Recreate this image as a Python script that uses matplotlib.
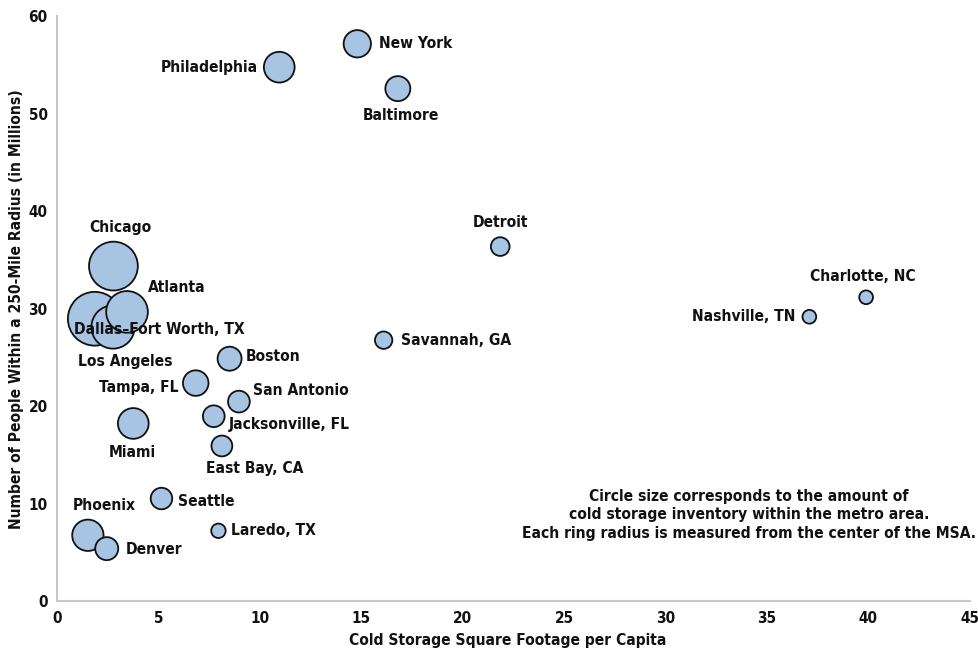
import os
import matplotlib
matplotlib.use("Agg")
import matplotlib.pyplot as plt
from matplotlib import font_manager as fm
import numpy as np

# ---- data -------------------------------------------------------------
cities = [
    "New York", "Philadelphia", "Baltimore", "Detroit", "Charlotte, NC",
    "Nashville, TN", "Savannah, GA", "Chicago", "Atlanta",
    "Dallas\u2013Fort Worth, TX", "Los Angeles", "Boston", "Tampa, FL",
    "San Antonio", "Jacksonville, FL", "Miami", "East Bay, CA", "Seattle",
    "Phoenix", "Laredo, TX", "Denver",
]
sqft_per_capita = [
    14.8, 10.95, 16.8, 21.85, 39.9,
    37.1, 16.1, 2.77, 3.44,
    2.75, 1.85, 8.5, 6.83,
    8.96, 7.72, 3.75, 8.12, 5.14,
    1.51, 7.95, 2.44,
]
pop_250mi_millions = [
    57.2, 54.8, 52.6, 36.4, 31.2,
    29.2, 26.8, 34.4, 29.7,
    28.15, 29.0, 24.9, 22.4,
    20.5, 19.0, 18.26, 15.95, 10.56,
    6.79, 7.25, 5.42,
]
cold_storage_inventory = [
    79, 100, 66, 37, 20,
    20, 32, 252, 184,
    198, 306, 61, 69,
    50, 50, 100, 46, 49,
    104, 22, 56,
]

x_ticks = [0, 5, 10, 15, 20, 25, 30, 35, 40, 45]
y_ticks = [0, 10, 20, 30, 40, 50, 60]
x_title = "Cold Storage Square Footage per Capita"
y_title = "Number of People Within a 250-Mile Radius (in Millions)"
note = ("Circle size corresponds to the amount of\n"
        "cold storage inventory within the metro area.\n"
        "Each ring radius is measured from the center of the MSA.")

# ---- label placement (offset in pixels from bubble centre, alignment) --
label_layout = {
    "New York": (21.5, 0, "left"),
    "Philadelphia": (-21, 0, "right"),
    "Baltimore": (3, 27, "center"),
    "Detroit": (0, -24, "center"),
    "Charlotte, NC": (-3, -21, "center"),
    "Nashville, TN": (-14, 0, "right"),
    "Savannah, GA": (17, 0, "left"),
    "Chicago": (6.6, -39, "center"),
    "Atlanta": (20.7, -24, "left"),
    "Dallas\u2013Fort Worth, TX": (46.5, 2, "center"),
    "Los Angeles": (30, 42.7, "center"),
    "Boston": (16.3, -2.3, "left"),
    "Tampa, FL": (-17.4, 4.7, "right"),
    "San Antonio": (14, -11.5, "left"),
    "Jacksonville, FL": (15.3, 8.5, "left"),
    "Miami": (-0.6, 29.2, "center"),
    "East Bay, CA": (-15.8, 22.3, "left"),
    "Seattle": (16.8, 2.5, "left"),
    "Phoenix": (16.7, -29.6, "center"),
    "Laredo, TX": (12.2, 0.2, "left"),
    "Denver": (19.3, 0.6, "left"),
}


def condensed_bold():
    """Pick a bold condensed face if one is installed."""
    prefs = [
        "NotoSans-ExtraCondensedBold", "LiberationSansNarrow-Bold",
        "NotoSans-CondensedBold", "DejaVuSansCondensed-Bold",
        "OpenSans-CondensedBold", "OpenSans_Condensed-Bold",
        "RobotoCondensed-Bold", "NotoSans-SemiCondensedBold",
    ]
    files = {}
    for f in fm.fontManager.ttflist:
        files[os.path.splitext(os.path.basename(f.fname))[0]] = f.fname
    for p in prefs:
        if p in files:
            return fm.FontProperties(fname=files[p])
    for stem, path in files.items():
        s = stem.lower()
        if ("condensed" in s or "narrow" in s) and s.endswith("bold") \
                and "semibold" not in s and "extrabold" not in s:
            return fm.FontProperties(fname=path)
    return fm.FontProperties(family="DejaVu Sans", weight="bold")


base_fp = condensed_bold()


def fp(size):
    p = base_fp.copy()
    p.set_size(size)
    return p


PX = 72.0 / 100.0  # points per pixel at 100 dpi
LABEL_PT = 11.2

fig = plt.figure(figsize=(9.79, 6.54), dpi=100)
ax = fig.add_axes([0.0585, 0.0803, 0.9318, 0.8945])

order = np.argsort(cold_storage_inventory)[::-1]
xs = np.array(sqft_per_capita)[order]
ys = np.array(pop_250mi_millions)[order]
sizes = np.array(cold_storage_inventory, dtype=float)[order] * 4.9
ax.scatter(xs, ys, s=sizes, facecolor="#a7c4e3", edgecolor="#111111",
           linewidth=1.3, zorder=3)

for name, x, y in zip(cities, sqft_per_capita, pop_250mi_millions):
    dx, dy, ha = label_layout[name]
    ax.annotate(name, (x, y), xytext=(dx * PX, -dy * PX),
                textcoords="offset points", ha=ha, va="center",
                fontproperties=fp(LABEL_PT), color="#111111", zorder=5)

ax.set_xlim(0, 45)
ax.set_ylim(0, 60)
ax.set_xticks(x_ticks)
ax.set_yticks(y_ticks)
ax.tick_params(length=0, pad=7)
for lab in ax.get_xticklabels() + ax.get_yticklabels():
    lab.set_fontproperties(fp(11))
    lab.set_color("#111111")

for side in ("top", "right"):
    ax.spines[side].set_visible(False)
for side in ("left", "bottom"):
    ax.spines[side].set_color("#c8c8c8")
    ax.spines[side].set_linewidth(1.5)

fig.text(508 / 979, 1 - 641 / 654, x_title, ha="center", va="center",
         fontproperties=fp(LABEL_PT), color="#111111")
fig.text(17 / 979, 1 - 309 / 654, y_title, ha="center", va="center",
         rotation=90, fontproperties=fp(LABEL_PT), color="#111111")

fig.text(749 / 979, 1 - 515 / 654, note, ha="center", va="center",
         multialignment="center", linespacing=1.3,
         fontproperties=fp(LABEL_PT), color="#111111")

fig.savefig("out.png", dpi=100, facecolor="white")
